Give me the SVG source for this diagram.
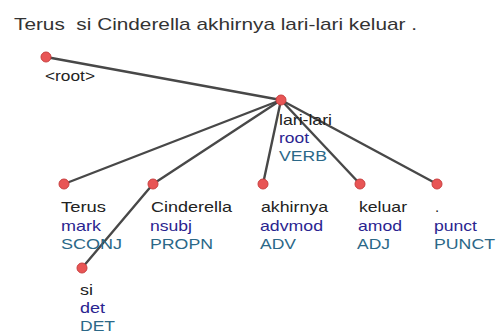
<svg xmlns="http://www.w3.org/2000/svg" width="496" height="333" viewBox="0 0 496 333">
<style>
text{font-family:"Liberation Sans",Arial,sans-serif;font-size:15px}
.title{font-size:17px;fill:#333}
.w{fill:#222}
.d{fill:#2a2490}
.p{fill:#2b6888}
.n{fill:#e85555;stroke:#c94040;stroke-width:1}
.e{stroke:#484848;stroke-width:2.4;fill:none;stroke-linecap:round}
</style>
<rect width="496" height="333" fill="#fff"/>
<text class="title" x="14" y="30" textLength="403" lengthAdjust="spacingAndGlyphs" xml:space="preserve">Terus  si Cinderella akhirnya lari-lari keluar .</text>
<g id="connectors">
<line class="e" x1="46" y1="57" x2="281" y2="100"/>
<line class="e" x1="281" y1="100" x2="64" y2="184"/>
<line class="e" x1="281" y1="100" x2="153" y2="184"/>
<line class="e" x1="281" y1="100" x2="263" y2="184"/>
<line class="e" x1="281" y1="100" x2="360" y2="184"/>
<line class="e" x1="281" y1="100" x2="437" y2="184"/>
<line class="e" x1="153" y1="184" x2="82" y2="268"/>
</g>
<g id="node-root">
<circle class="n" cx="46" cy="57" r="5"/>
<text class="w" x="45" y="81" textLength="50" lengthAdjust="spacingAndGlyphs">&lt;root&gt;</text>
</g>
<g id="node-lari-lari">
<circle class="n" cx="281" cy="100" r="5"/>
<text class="w" x="279" y="125" textLength="53" lengthAdjust="spacingAndGlyphs">lari-lari</text>
<text class="d" x="279" y="143" textLength="30" lengthAdjust="spacingAndGlyphs">root</text>
<text class="p" x="279" y="161" textLength="48" lengthAdjust="spacingAndGlyphs">VERB</text>
</g>
<g id="node-terus">
<circle class="n" cx="64" cy="184" r="5"/>
<text class="w" x="61" y="212" textLength="45" lengthAdjust="spacingAndGlyphs">Terus</text>
<text class="d" x="61" y="230.5" textLength="40" lengthAdjust="spacingAndGlyphs">mark</text>
<text class="p" x="61" y="249" textLength="61" lengthAdjust="spacingAndGlyphs">SCONJ</text>
</g>
<g id="node-cinderella">
<circle class="n" cx="153" cy="184" r="5"/>
<text class="w" x="151" y="212" textLength="81" lengthAdjust="spacingAndGlyphs">Cinderella</text>
<text class="d" x="150" y="230.5" textLength="42" lengthAdjust="spacingAndGlyphs">nsubj</text>
<text class="p" x="150" y="249" textLength="63" lengthAdjust="spacingAndGlyphs">PROPN</text>
</g>
<g id="node-akhirnya">
<circle class="n" cx="263" cy="184" r="5"/>
<text class="w" x="261" y="212" textLength="67" lengthAdjust="spacingAndGlyphs">akhirnya</text>
<text class="d" x="260" y="230.5" textLength="63" lengthAdjust="spacingAndGlyphs">advmod</text>
<text class="p" x="260" y="249" textLength="36" lengthAdjust="spacingAndGlyphs">ADV</text>
</g>
<g id="node-keluar">
<circle class="n" cx="360" cy="184" r="5"/>
<text class="w" x="359" y="212" textLength="48" lengthAdjust="spacingAndGlyphs">keluar</text>
<text class="d" x="358" y="230.5" textLength="44" lengthAdjust="spacingAndGlyphs">amod</text>
<text class="p" x="357" y="249" textLength="33" lengthAdjust="spacingAndGlyphs">ADJ</text>
</g>
<g id="node-punct">
<circle class="n" cx="437" cy="184" r="5"/>
<text class="w" x="435" y="212">.</text>
<text class="d" x="434" y="230.5" textLength="43" lengthAdjust="spacingAndGlyphs">punct</text>
<text class="p" x="434" y="249" textLength="61" lengthAdjust="spacingAndGlyphs">PUNCT</text>
</g>
<g id="node-si">
<circle class="n" cx="82" cy="268" r="5"/>
<text class="w" x="80" y="295" textLength="13" lengthAdjust="spacingAndGlyphs">si</text>
<text class="d" x="80" y="313" textLength="25" lengthAdjust="spacingAndGlyphs">det</text>
<text class="p" x="80" y="331" textLength="35" lengthAdjust="spacingAndGlyphs">DET</text>
</g>
</svg>
